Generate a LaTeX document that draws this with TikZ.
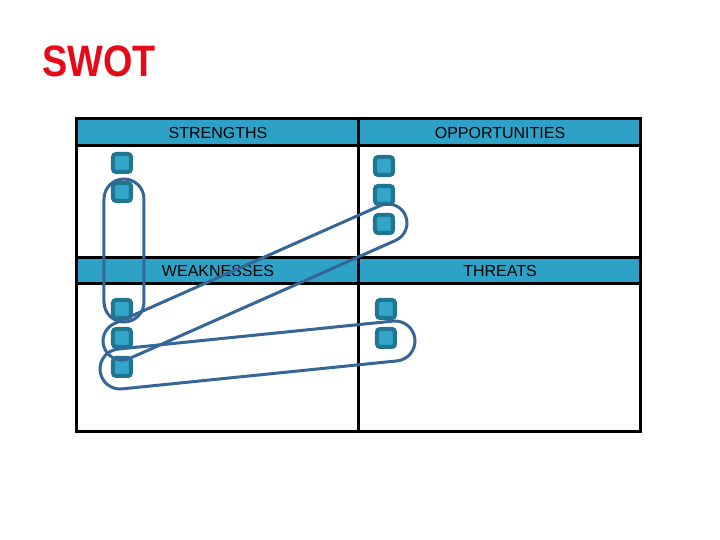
\documentclass[tikz,border=0pt]{standalone}
\usepackage{fontspec}
\setmainfont{Liberation Sans}
\usepackage{graphicx}
\usetikzlibrary{calc,positioning,shapes.misc}
\definecolor{swotred}{RGB}{230,10,25}
\definecolor{swothead}{RGB}{45,162,198}
\definecolor{swotbox}{RGB}{30,118,145}
\definecolor{swotboxin}{RGB}{50,165,200}
\definecolor{swotloop}{RGB}{54,101,152}
% stadium loop named #1 between cap centres #2 and #3, radius #4
\newcommand{\swotloop}[4]{%
  \path let \p1=($(#3)-(#2)$), \n1={atan2(\y1,\x1)}, \n2={veclen(\x1,\y1)} in
    node[loopline,rotate=\n1,minimum width={\n2+2*#4},minimum height={2*#4}]
      (#1) at ($(#2)!0.5!(#3)$) {};}

\begin{document}
\begin{tikzpicture}[x=0.5pt,y=-0.5pt,
  bullet/.style={draw=swotbox,fill=swotboxin,line width=2pt,rounded corners=1.5pt,
                 minimum size=9pt,inner sep=0pt},
  headtext/.style={font=\fontsize{8}{9}\selectfont,text=black,inner sep=0pt},
  gridline/.style={line width=1.5pt,black},
  loopline/.style={draw=swotloop,line width=1.5pt,shape=rounded rectangle,inner sep=0pt}]
  \useasboundingbox (0,0) rectangle (720,540);
  \fill[white] (0,0) rectangle (720,540);
  % title
  \node[anchor=base west,inner sep=0pt,text=swotred,font=\fontsize{22}{24}\selectfont\bfseries]
        (title) at (42,77) {\scalebox{0.86}[1]{SWOT}};
  % header bands
  \fill[swothead] (77,119) rectangle (641,146);
  \fill[swothead] (77,258) rectangle (641,284);
  % grid
  \draw[gridline] (77,119) rectangle (641,432);
  \draw[gridline] (359,119) -- (359,432);
  \draw[gridline] (77,146) -- (641,146);
  \draw[gridline] (77,258) -- (641,258);
  \draw[gridline] (77,284) -- (641,284);
  % headings
  \node[headtext] (strengths) at (218,132.5) {STRENGTHS};
  \node[headtext] (opportunities) at (500,132.5) {OPPORTUNITIES};
  \node[headtext] (weaknesses) at (218,271) {WEAKNESSES};
  \node[headtext] (threats) at (500,271) {THREATS};
  % bullets
  \node[bullet] (s1) at (122,163) {};
  \node[bullet,below=3.5pt of s1] (s2) {};
  \node[bullet] (o1) at (384,166) {};
  \node[bullet,below=3.5pt of o1] (o2) {};
  \node[bullet,below=3.5pt of o2] (o3) {};
  \node[bullet] (w1) at (122,309) {};
  \node[bullet,below=3.5pt of w1] (w2) {};
  \node[bullet,below=3.5pt of w2] (w3) {};
  \node[bullet] (t1) at (386,309) {};
  \node[bullet,below=3.5pt of t1] (t2) {};
  % loops
  \coordinate (l1a) at ($(s2)+(2,7)$);
  \coordinate (l1b) at ($(w1)+(2,-7)$);
  \coordinate (l2a) at ($(w2)+(0,3)$);
  \coordinate (l2b) at ($(o3)+(4,-1)$);
  \coordinate (l3a) at ($(w3)+(-2,2)$);
  \coordinate (l3b) at ($(t2)+(9,3)$);
  \swotloop{loop1}{l1a}{l1b}{10pt}
  \swotloop{loop2}{l2a}{l2b}{9.5pt}
  \swotloop{loop3}{l3a}{l3b}{10pt}
\end{tikzpicture}
\end{document}
